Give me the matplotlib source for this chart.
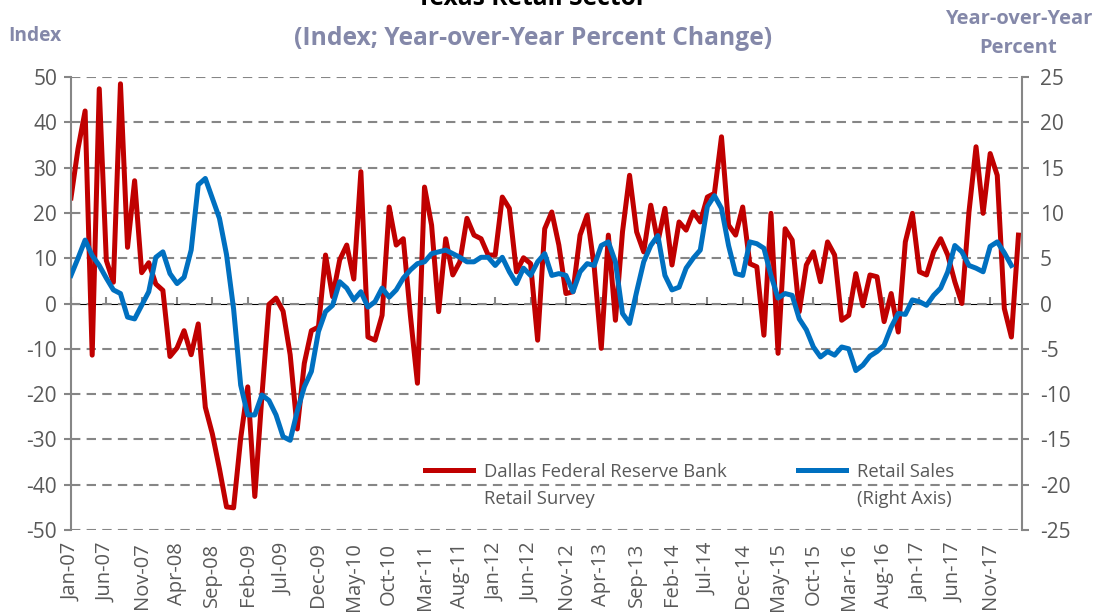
import numpy as np
import matplotlib
matplotlib.use("Agg")
import matplotlib.pyplot as plt

# Dallas Fed Texas Retail Outlook Survey index, monthly from Jan-07
survey_index = [
    23.3, 34.2, 42.5, -11.4, 47.4, 9.5, 4.7, 48.5, 12.4, 27.1, 6.8, 9.0,
    4.3, 2.9, -11.7, -9.8, -6.0, -11.3, -4.5, -22.9, -28.8, -36.5, -44.9, -45.1,
    -29.8, -18.4, -42.6, -20.5, -0.2, 1.2, -1.7, -11.3, -27.7, -13.2, -6.0, -5.2,
    10.7, 1.5, 9.6, 12.9, 5.4, 29.1, -7.4, -8.1, -2.6, 21.3, 12.9, 14.3,
    -2.6, -17.6, 25.7, 17.3, -1.8, 14.3, 6.3, 9.2, 18.8, 15.1, 14.3, 10.7,
    10.7, 23.5, 21.0, 7.0, 10.1, 8.8, -8.1, 16.5, 20.2, 12.9, 2.2, 2.6,
    15.1, 19.5, 8.1, -9.9, 15.1, -3.7, 15.8, 28.3, 15.8, 11.4, 21.7, 13.6,
    21.0, 8.5, 18.0, 16.2, 20.2, 18.0, 23.5, 24.3, 36.8, 17.3, 15.1, 21.3,
    8.8, 8.1, -7.0, 19.9, -11.0, 16.5, 14.0, -1.8, 8.5, 11.4, 4.8, 13.6,
    10.7, -3.7, -2.6, 6.6, -0.5, 6.3, 5.9, -4.0, 2.2, -6.3, 13.6, 19.9,
    7.0, 6.3, 11.4, 14.3, 10.7, 4.8, 0.0, 20.2, 34.6, 19.9, 33.1, 28.3,
    -1.1, -7.4, 15.1,
]

# Texas retail sales, year-over-year percent change (right axis)
retail_sales_yoy = [
    3.1, 5.0, 7.0, 5.3, 4.2, 2.8, 1.5, 1.1, -1.5, -1.7, -0.2, 1.3,
    5.1, 5.7, 3.3, 2.2, 2.9, 5.9, 13.1, 13.8, 11.6, 9.4, 5.4, -0.6,
    -9.0, -12.3, -12.3, -10.1, -10.7, -12.3, -14.7, -15.1, -11.9, -9.2, -7.5, -3.1,
    -0.9, -0.2, 2.4, 1.7, 0.4, 1.3, -0.4, 0.2, 1.7, 0.7, 1.5, 2.8,
    3.7, 4.4, 4.6, 5.5, 5.7, 5.9, 5.5, 5.1, 4.6, 4.6, 5.1, 5.1,
    4.2, 5.1, 3.5, 2.2, 3.9, 3.1, 4.6, 5.5, 3.1, 3.3, 3.1, 1.3,
    3.5, 4.4, 4.2, 6.4, 6.8, 4.6, -1.1, -2.2, 1.3, 4.6, 6.4, 7.5,
    3.1, 1.5, 1.8, 3.9, 5.0, 5.9, 10.7, 11.9, 10.5, 6.4, 3.3, 3.1,
    6.8, 6.6, 6.1, 3.1, 0.6, 1.1, 0.9, -1.7, -2.9, -4.8, -5.9, -5.3,
    -5.7, -4.8, -5.0, -7.4, -6.8, -5.8, -5.3, -4.6, -2.6, -1.1, -1.2, 0.4,
    0.2, -0.2, 0.9, 1.7, 3.5, 6.4, 5.7, 4.2, 3.9, 3.5, 6.3, 6.8,
    5.6, 4.2,
]

tick_labels = [
    "Jan-07", "Jun-07", "Nov-07", "Apr-08", "Sep-08", "Feb-09", "Jul-09",
    "Dec-09", "May-10", "Oct-10", "Mar-11", "Aug-11", "Jan-12", "Jun-12",
    "Nov-12", "Apr-13", "Sep-13", "Feb-14", "Jul-14", "Dec-14", "May-15",
    "Oct-15", "Mar-16", "Aug-16", "Jan-17", "Jun-17", "Nov-17",
]
legend_first = ["Dallas Federal Reserve Bank", "Retail Sales"]
legend_second = ["Retail Survey", "(Right Axis)"]

RED = "#C00000"
BLUE = "#0070C0"
GRAY = "#868686"
TXT = "#595959"
HEAD = "#8488A9"

plt.rcParams["font.family"] = ["Open Sans", "DejaVu Sans"]

W, H = 1102, 616
fig = plt.figure(figsize=(W / 100, H / 100), dpi=100)
ax = fig.add_axes([0.0644, 0.1396, 0.8630, 0.7354])
ax2 = ax.twinx()

x_red = np.arange(len(survey_index))
x_blue = np.arange(len(retail_sales_yoy))
tick_pos = np.arange(len(tick_labels)) * 5

ax.plot(x_red, survey_index, color=RED, lw=3.6, solid_joinstyle="round")
ax2.plot(x_blue, retail_sales_yoy, color=BLUE, lw=3.6, solid_joinstyle="round")

ax.set_xlim(0, 134.5)
ax.set_ylim(-50, 50)
ax2.set_ylim(-25, 25)
ax.set_yticks(np.arange(-50, 51, 10))
ax2.set_yticks(np.arange(-25, 26, 5))

# dashed gridlines
ax.yaxis.grid(True, color=GRAY, lw=1.5, dashes=(4.5, 3))
ax.set_axisbelow(True)

for a in (ax, ax2):
    for s in ("top", "bottom"):
        a.spines[s].set_visible(False)
    for s in ("left", "right"):
        a.spines[s].set_color(GRAY)
        a.spines[s].set_linewidth(1.5)
ax.spines["right"].set_visible(False)
ax2.spines["left"].set_visible(False)

ax.tick_params(axis="y", direction="out", length=5, width=1.5, color=GRAY,
               labelcolor=TXT, labelsize=15, pad=5)
ax2.tick_params(axis="y", direction="out", length=5, width=1.5, color=GRAY,
                labelcolor=TXT, labelsize=15, pad=8)
ax.set_yticklabels([f"{v}" for v in range(-50, 51, 10)])
ax2.set_yticklabels([f"{v}" for v in range(-25, 26, 5)])

# category labels at the bottom, tick marks on the zero line
ax.set_xticks(tick_pos)
ax.set_xticklabels(tick_labels, rotation=90)
ax.tick_params(axis="x", length=0, labelcolor=TXT, labelsize=14.5, pad=9)
zero_axis = ax.secondary_xaxis(0.5)
zero_axis.set_xticks(tick_pos)
zero_axis.set_xticklabels([])
zero_axis.tick_params(axis="x", direction="out", length=5, width=1.5, color=GRAY)
zero_axis.spines["bottom"].set_color(GRAY)
zero_axis.spines["bottom"].set_linewidth(1.5)

# legend (first line of each label), second lines placed under them
handles = ax.get_lines()[:1] + ax2.get_lines()[:1]
leg = ax2.legend(handles, legend_first,
                 loc="upper left", bbox_to_anchor=(0.355, 0.185), ncol=2,
                 frameon=False, fontsize=13.3, handlelength=2.6,
                 handletextpad=0.6, columnspacing=3.85, labelcolor=TXT)
fig.canvas.draw()
for t, extra in zip(leg.get_texts(), legend_second):
    bb = t.get_window_extent()
    fig.text(bb.x0 / W, ((bb.y0 + bb.y1) / 2 - 27) / H, extra, ha="left",
             va="center", fontsize=13.3, color=TXT)

# titles
fig.text(0.483, 1.002, "Texas Retail Sector", ha="center", va="center",
         fontsize=17.7, fontweight="bold", color="black")
fig.text(0.484, 0.938, "(Index; Year-over-Year Percent Change)", ha="center",
         va="center", fontsize=17.7, fontweight="bold", color=HEAD)
fig.text(0.0075, 0.942, "Index", ha="left", va="center", fontsize=13.8,
         fontweight="bold", color=HEAD)
fig.text(0.924, 0.946, "Year-over-Year\nPercent", ha="center", va="center",
         fontsize=14.5, fontweight="bold", color=HEAD, linespacing=1.6)

fig.savefig("out.png", dpi=100)
